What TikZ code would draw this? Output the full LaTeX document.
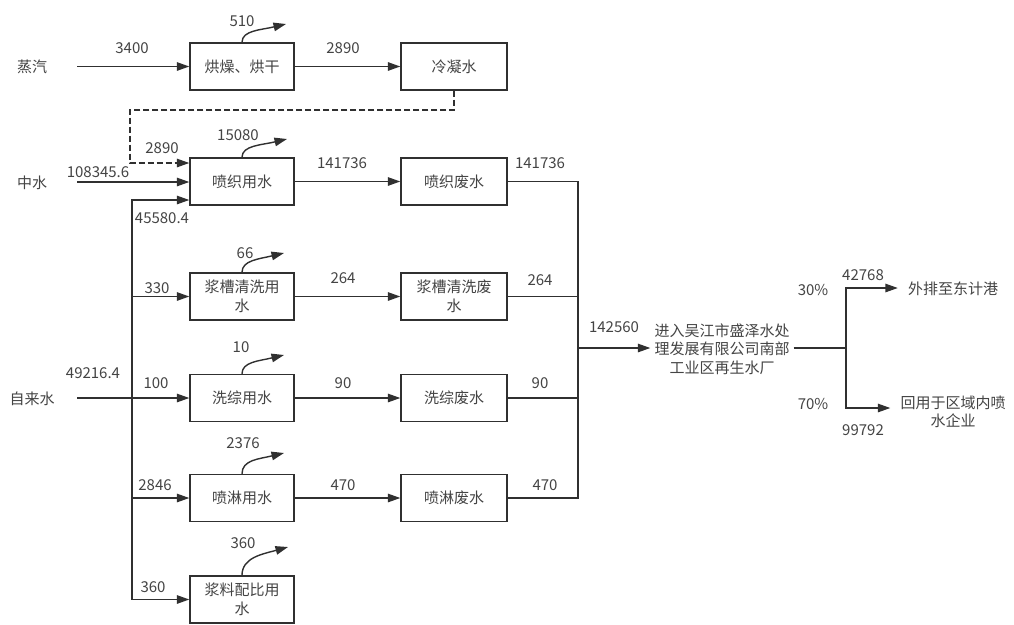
\documentclass[tikz,border=0pt]{standalone}
\usepackage{fontspec}
\setmainfont{Noto Sans CJK SC}
\usetikzlibrary{arrows.meta,calc}
\definecolor{ln}{HTML}{303030}
\definecolor{tx}{HTML}{444444}
\begin{document}
\begin{tikzpicture}[x=1pt,y=-1pt,
  every node/.style={font=\fontsize{15}{19}\selectfont, text=tx},
  box/.style={draw=ln, line width=1.4pt, minimum height=47pt, inner sep=1pt, align=center},
  lbox/.style={box, minimum width=104pt},
  rbox/.style={box, minimum width=106pt},
  lbl/.style={inner sep=0pt},
  flow/.style={draw=ln, line width=1.4pt, -{Triangle[length=12.5pt,width=8.5pt]}},
  plain/.style={draw=ln, line width=1.4pt},
  dsh/.style={draw=ln, line width=1.4pt, dash pattern=on 6pt off 3pt, -{Triangle[length=12.5pt,width=8.5pt]}},
  dest/.style={inner xsep=10pt, inner ysep=2pt, align=center, font=\fontsize{15}{18.5}\selectfont},
]
\useasboundingbox[fill=white] (0,0) rectangle (1014,624);

% boxes
\node[lbox] (b1) at (242,66.5) {烘燥、烘干};
\node[lbox] (b2) at (242,181.5) {喷织用水};
\node[lbox] (b3) at (242,296.5) {浆槽清洗用\\水};
\node[lbox] (b4) at (242,398) {洗综用水};
\node[lbox] (b5) at (242,498) {喷淋用水};
\node[lbox] (b6) at (242,599.5) {浆料配比用\\水};
\node[rbox] (r1) at (454,66.5) {冷凝水};
\node[rbox] (r2) at (454,181.5) {喷织废水};
\node[rbox] (r3) at (454,296.5) {浆槽清洗废\\水};
\node[rbox] (r4) at (454,398) {洗综废水};
\node[rbox] (r5) at (454,498) {喷淋废水};

% sources
\node[lbl] (sZ) at (32,67) {蒸汽};
\node[lbl] (sM) at (32,183) {中水};
\node[lbl] (sT) at (32,399) {自来水};
\coordinate (z0) at (77,66.5);
\coordinate (m0) at (77,182);
\coordinate (w0) at (77,398);

% destination
\node[inner sep=4pt, align=center, font=\fontsize{15}{18.5}\selectfont] (dst) at (722,349) {进入吴江市盛泽水处\\理发展有限公司南部\\工业区再生水厂};
\node[dest] (o1) at (953,289) {外排至东计港};
\node[dest] (o2) at (953,412) {回用于区域内喷\\水企业};

% helper coordinates
\coordinate (d1) at (130,110);
\coordinate (d2) at (130,163);
\coordinate (tt) at (132,200);
\coordinate (tb) at (132,599.5);
\coordinate (cx) at (578,348);
\coordinate (sp) at (846,348);
\coordinate (e1) at (286,24);
\coordinate (e2) at (287,139);
\coordinate (e3) at (284,253);
\coordinate (e4) at (284,355);
\coordinate (e5) at (284,453);
\coordinate (e6) at (288,547);

% main flows
\draw[flow] (z0) -- (b1.west);
\draw[flow] (b1.east) -- (r1.west);
\draw[dsh] (r1.south) |- (d1) -- (d2) -- (d2 -| b2.west);
\draw[flow] (m0) -- (m0 -| b2.west);
\draw[flow] (tb) -- (tt) -- (tt -| b2.west);
\draw[flow] (tt |- b3.west) -- (b3.west);
\draw[flow] (w0) -- (b4.west);
\draw[flow] (tt |- b5.west) -- (b5.west);
\draw[flow] (tb) -- (b6.west);
\draw[flow] (b2.east) -- (r2.west);
\draw[flow] (b3.east) -- (r3.west);
\draw[flow] (b4.east) -- (r4.west);
\draw[flow] (b5.east) -- (r5.west);

% collector
\draw[plain] (r2.east) -- (r2.east -| cx) -- (r5.east -| cx) -- (r5.east);
\draw[plain] (r3.east) -- (r3.east -| cx);
\draw[plain] (r4.east) -- (r4.east -| cx);
\draw[flow] (cx) -- (cx -| dst.west);
\draw[plain] (dst.east |- sp) -- (sp);
\draw[flow] (sp) |- ([yshift=1pt]o1.west);
\draw[flow] (sp) |- ([yshift=4pt]o2.west);

% loss arrows
\draw[flow] (b1.north) .. controls ($(b1.north)+(0,-12)$) and ($(e1)+(-25,6)$) .. (e1);
\draw[flow] (b2.north) .. controls ($(b2.north)+(0,-12)$) and ($(e2)+(-25,6)$) .. (e2);
\draw[flow] (b3.north) .. controls ($(b3.north)+(0,-12)$) and ($(e3)+(-25,6)$) .. (e3);
\draw[flow] (b4.north) .. controls ($(b4.north)+(0,-12)$) and ($(e4)+(-25,6)$) .. (e4);
\draw[flow] (b5.north) .. controls ($(b5.north)+(0,-14)$) and ($(e5)+(-25,6)$) .. (e5);
\draw[flow] (b6.north) .. controls ($(b6.north)+(0,-18)$) and ($(e6)+(-25,7)$) .. (e6);

% labels
\node[lbl] (n3400) at (132,48) {3400};
\node[lbl] (n510) at (242,21) {510};
\node[lbl] (n2890a) at (343,48) {2890};
\node[lbl] (n2890b) at (162,148) {2890};
\node[lbl] (n108) at (98,172) {108345.6};
\node[lbl] (n15080) at (238,135) {15080};
\node[lbl] (n141a) at (342,163) {141736};
\node[lbl] (n141b) at (540,163) {141736};
\node[lbl] (n45580) at (162,218) {45580.4};
\node[lbl] (n66) at (245,253) {66};
\node[lbl] (n330) at (157,288) {330};
\node[lbl] (n264a) at (343,278) {264};
\node[lbl] (n264b) at (540,280) {264};
\node[lbl] (n10) at (241,347) {10};
\node[lbl] (n49216) at (93,373) {49216.4};
\node[lbl] (n100) at (156,383) {100};
\node[lbl] (n90a) at (343,383) {90};
\node[lbl] (n90b) at (540,383) {90};
\node[lbl] (n2376) at (243,443) {2376};
\node[lbl] (n2846) at (155,485) {2846};
\node[lbl] (n470a) at (343,485) {470};
\node[lbl] (n470b) at (545,485) {470};
\node[lbl] (n360a) at (243,543) {360};
\node[lbl] (n360b) at (153,587) {360};
\node[lbl] (n142560) at (614,327) {142560};
\node[lbl] (n30) at (813,290) {30\%};
\node[lbl] (n42768) at (863,275) {42768};
\node[lbl] (n70) at (813,404) {70\%};
\node[lbl] (n99792) at (863,430) {99792};
\end{tikzpicture}
\end{document}
